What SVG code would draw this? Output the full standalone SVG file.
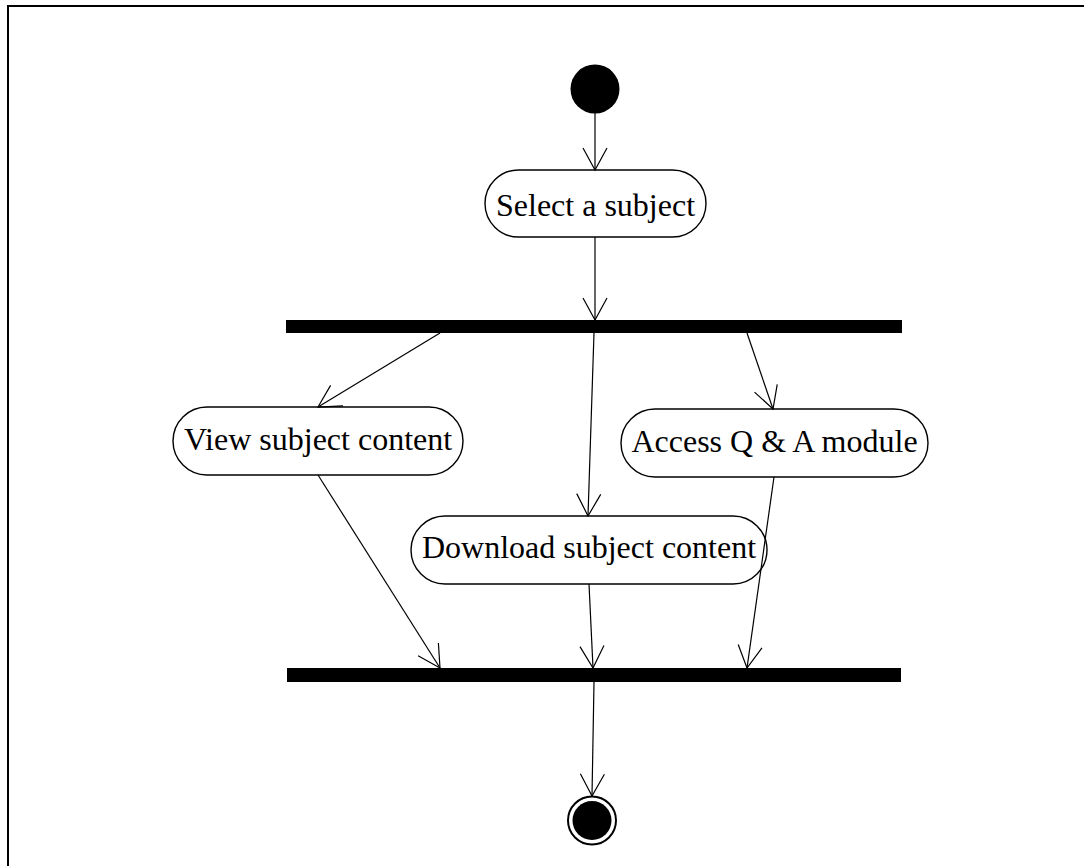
<svg xmlns="http://www.w3.org/2000/svg" width="1084" height="866" viewBox="0 0 1084 866">
  <style>
    .frame { fill: none; stroke: #000; stroke-width: 2; }
    .action rect { fill: #fff; stroke: #000; stroke-width: 1.4; }
    .action text { font-family: "Liberation Serif", "Times New Roman", serif; font-size: 32px; fill: #000; text-anchor: middle; }
    .bar { fill: #000; }
    .flow { fill: none; stroke: #000; stroke-width: 1.2; marker-end: url(#open-arrow); }
  </style>
  <defs>
    <marker id="open-arrow" markerUnits="userSpaceOnUse" viewBox="-26 -15 30 30" markerWidth="30" markerHeight="30" refX="0" refY="0" orient="auto" overflow="visible">
      <path d="M-22,-12 L0,0 L-22,12" fill="none" stroke="#000" stroke-width="1.2"/>
    </marker>
  </defs>

  <rect width="1084" height="866" fill="#fff"/>
  <path class="frame" d="M8,870 V6 H1090"/>

  <!-- initial node -->
  <g id="start">
    <circle cx="595" cy="89" r="24.5" fill="#000"/>
  </g>

  <g id="select-subject" class="action">
    <rect x="485" y="170" width="221" height="67" rx="33.5" ry="33.5"/>
    <text x="595.5" y="216">Select a subject</text>
  </g>

  <!-- fork bar -->
  <g id="fork">
    <rect class="bar" x="286" y="320" width="616" height="13"/>
  </g>

  <g id="view-content" class="action">
    <rect x="173" y="407" width="290" height="68" rx="34" ry="34"/>
    <text x="318" y="450">View subject content</text>
  </g>

  <g id="access-qa" class="action">
    <rect x="621" y="409" width="307" height="68" rx="34" ry="34"/>
    <text x="774.5" y="452">Access Q &amp; A module</text>
  </g>

  <g id="download-content" class="action">
    <rect x="411" y="516" width="356" height="68" rx="34" ry="34"/>
    <text x="589" y="558">Download subject content</text>
  </g>

  <!-- join bar -->
  <g id="join">
    <rect class="bar" x="287" y="668" width="614" height="14"/>
  </g>

  <!-- final node -->
  <g id="end">
    <circle cx="592" cy="820.5" r="24" fill="#fff" stroke="#000" stroke-width="2"/>
    <circle cx="592" cy="820.5" r="19.5" fill="#000"/>
  </g>

  <g id="connectors">
    <line class="flow" x1="595" y1="113" x2="595" y2="170"/>
    <line class="flow" x1="595" y1="237" x2="595" y2="320"/>
    <line class="flow" x1="440" y1="333" x2="318" y2="407"/>
    <line class="flow" x1="594" y1="333" x2="588" y2="516"/>
    <line class="flow" x1="747" y1="333" x2="773" y2="409"/>
    <line class="flow" x1="318" y1="475" x2="440" y2="668"/>
    <line class="flow" x1="589" y1="584" x2="593" y2="668"/>
    <line class="flow" x1="774" y1="477" x2="747" y2="668"/>
    <line class="flow" x1="594" y1="682" x2="592" y2="796"/>
  </g>
</svg>
